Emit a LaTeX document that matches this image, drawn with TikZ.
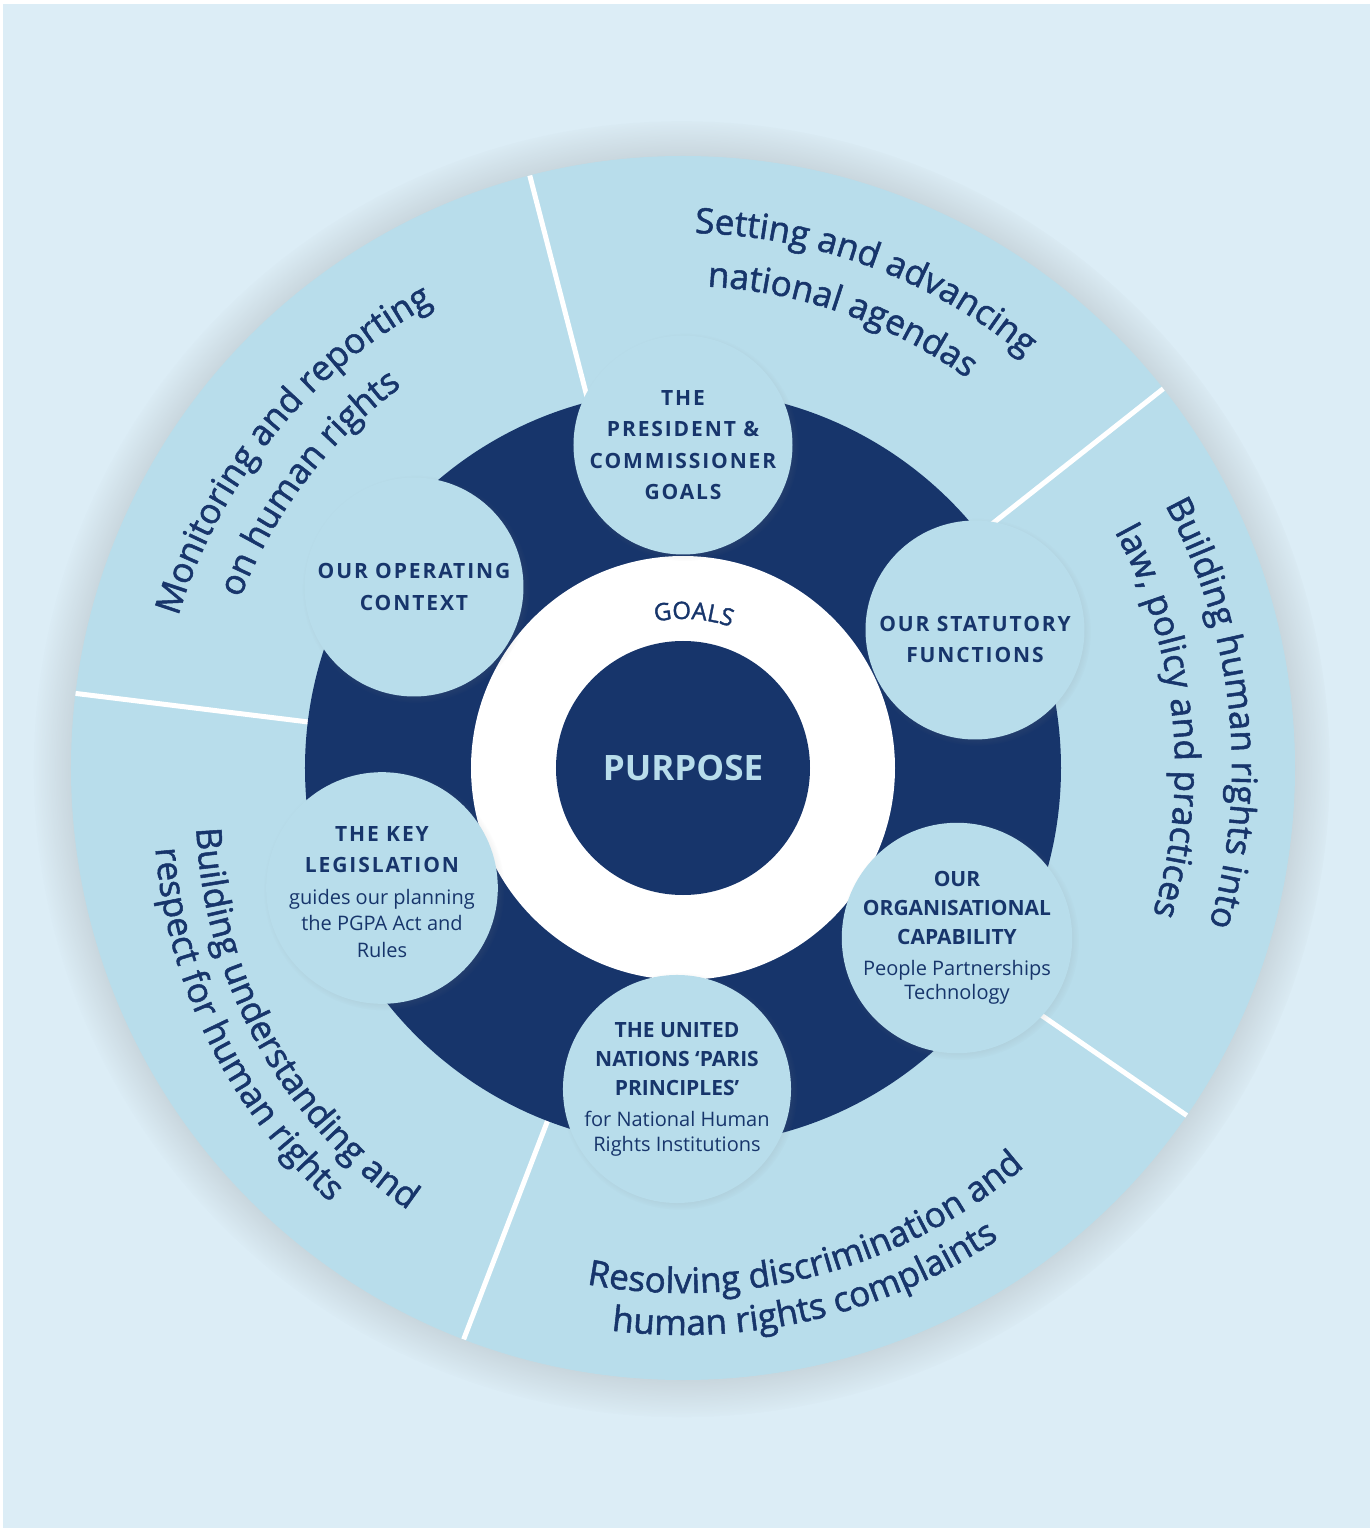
\documentclass[tikz,border=0pt]{standalone}
\usepackage{fontspec}
\setmainfont{Open Sans}
\newfontfamily\trackedfont[LetterSpace=9]{Open Sans}
\newfontfamily\arcfamily[FakeBold=1.5]{Open Sans}
\usetikzlibrary{decorations.text,shadows}

\definecolor{navy}{HTML}{17356B}
\definecolor{pale}{HTML}{B8DDEB}
\definecolor{backblue}{HTML}{DCEDF6}

\newcommand\arcfont{\arcfamily\fontsize{35}{40}\selectfont}
\newcommand\notefont{\rmfamily\fontsize{20}{25}\selectfont\mdseries}
% text on a circle round the origin: mid angle, radius, text
\newcommand\cwline[3]{\path[arctext, decoration={text={|\arcfont|#3}}] ({#1+40}:#2) arc[start angle={#1+40}, end angle={#1-40}, radius=#2];}
\newcommand\ccwline[3]{\path[arctext, decoration={text={|\arcfont|#3}}] ({#1-40}:#2) arc[start angle={#1-40}, end angle={#1+40}, radius=#2];}

\tikzset{
  goalcircle/.style={circle, fill=pale, minimum size=219, inner sep=0pt, align=center, text=navy,
    font=\trackedfont\fontsize{21}{31.5}\selectfont\bfseries,
    circular drop shadow={shadow xshift=2pt, shadow yshift=-2pt, shadow scale=1.04, opacity=.25}},
  plaincircle/.style={goalcircle, font=\rmfamily\fontsize{21}{29}\selectfont\bfseries},
  divider/.style={white, line width=5pt},
  arctext/.style={decorate, decoration={text along path, text align=center, text color=navy}}
}

\begin{document}
\begin{tikzpicture}[x=1pt, y=1pt]
  \useasboundingbox (-683,-760) rectangle (687,768);
  \fill[backblue] (-680,-760) rectangle (687,764);

  % outer wheel
  \fill[pale, circular drop shadow={shadow xshift=0pt, shadow yshift=0pt, shadow scale=1.06, opacity=.5}] (0,0) circle[radius=612];
  \foreach \a in {104.5,38.3,-34.6,-111,173}
    \draw[divider] (\a:370) -- (\a:612);
  \fill[navy] (0,0) circle[radius=378];
  \fill[white] (0,0) circle[radius=212];

  % centre
  \node[circle, fill=navy, minimum size=254, text=pale, font=\fontsize{35}{40}\selectfont\bfseries] (purpose) at (0,0) {PURPOSE};
  \path[arctext, decoration={text={|\arcfamily\fontsize{24}{26}\selectfont|GOALS}}] (116:149) arc[start angle=116, end angle=56, radius=149];

  % goal circles
  \node[goalcircle] (president) at (0,323) {THE\\PRESIDENT \&\\COMMISSIONER\\GOALS};
  \node[goalcircle] (context) at (-269,181) {OUR OPERATING\\CONTEXT};
  \node[goalcircle] (statutory) at (292,138) {\mbox{}\\[3pt]OUR STATUTORY\\FUNCTIONS};
  \node[plaincircle] (capability) at (274,-170)
    {OUR\\ORGANISATIONAL\\CAPABILITY\\[2pt]\notefont People Partnerships\\[-5pt]\notefont Technology};
  \node[plaincircle] (paris) at (-6,-321)
    {THE UNITED\\NATIONS ‘PARIS\\PRINCIPLES’\\[2pt]\notefont for National Human\\[-4pt]\notefont Rights Institutions};
  \node[goalcircle] (legislation) at (-301,-120)
    {\mbox{}\\[-9pt]THE KEY\\LEGISLATION\\\notefont guides our planning\\[-5pt]\notefont the PGPA Act and\\[-5pt]\notefont Rules};

  % outcome areas
  \cwline{69.5}{535}{Setting and advancing}
  \cwline{70.5}{482}{national agendas}
  \cwline{140.8}{527}{Monitoring and reporting}
  \cwline{142.7}{474}{on human rights}
  \cwline{6}{549}{Building human rights into}
  \cwline{5.7}{492}{law, policy and practices}
  \ccwline{285}{525}{Resolving discrimination and}
  \ccwline{283.3}{567}{human rights complaints}
  \begin{scope}[shift={(0,-40)}]
    \ccwline{209}{487}{Building understanding and}
    \ccwline{206.3}{529}{respect for human rights}
  \end{scope}
\end{tikzpicture}
\end{document}
